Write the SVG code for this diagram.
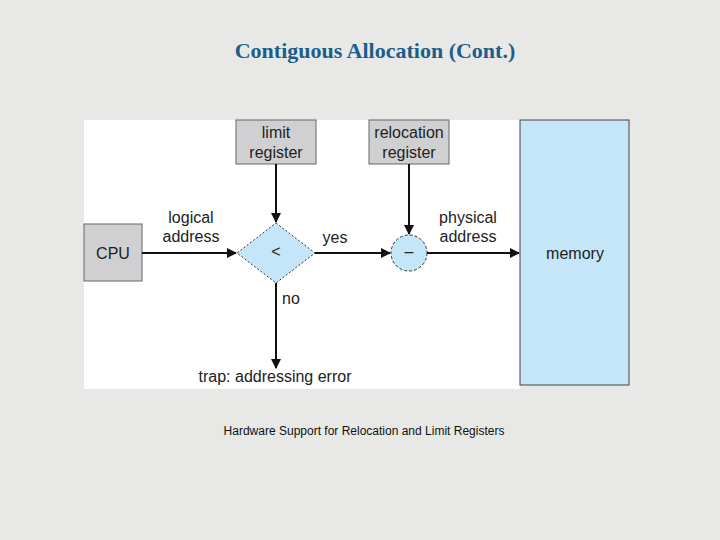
<svg xmlns="http://www.w3.org/2000/svg" width="720" height="540" viewBox="0 0 720 540">
<style>
.t{font-family:"Liberation Sans",Arial,sans-serif;font-size:16px;fill:#222;text-anchor:middle}
.reg{fill:#d0d0d2;stroke:#666;stroke-width:1}
.ln{stroke:#111;stroke-width:2;fill:none;marker-end:url(#a)}
</style>
<defs><marker id="a" viewBox="0 0 10 10" refX="9" refY="5" markerWidth="5" markerHeight="5" orient="auto"><path d="M0,0L10,5L0,10z" fill="#111"/></marker></defs>
<rect width="720" height="540" fill="#e8e8e6"/>
<text x="375" y="58" font-family="Liberation Serif,serif" font-size="22" font-weight="bold" fill="#1b5e8c" text-anchor="middle">Contiguous Allocation (Cont.)</text>
<rect x="84" y="120" width="436" height="269" fill="#fff"/>
<g id="memory"><rect x="520" y="120" width="109" height="265" fill="#c5e5f8" stroke="#444"/><text class="t" x="575" y="259">memory</text></g>
<g id="limit"><rect class="reg" x="236" y="120" width="80" height="44"/><text class="t" x="276" y="138">limit</text><text class="t" x="276" y="158">register</text></g>
<g id="relocation"><rect class="reg" x="369" y="120" width="80" height="44"/><text class="t" x="409" y="138">relocation</text><text class="t" x="409" y="158">register</text></g>
<g id="cpu"><rect class="reg" x="84" y="224" width="58" height="57"/><text class="t" x="113" y="259">CPU</text></g>
<g id="compare"><path d="M276,223L315,253L276,283L237,253z" fill="#c5e5f8" stroke="#333" stroke-dasharray="2,2"/><text class="t" x="276" y="257" font-size="11">&lt;</text></g>
<g id="adder"><circle cx="409" cy="253" r="18" fill="#c5e5f8" stroke="#333" stroke-dasharray="3,2"/><text class="t" x="409" y="257">–</text></g>
<g id="connectors">
<path class="ln" d="M142,253H236"/>
<path class="ln" d="M276,164V222"/>
<path class="ln" d="M315,253H390"/>
<path class="ln" d="M409,164V234"/>
<path class="ln" d="M427,253H519"/>
<path class="ln" d="M276,283V368"/>
</g>
<text class="t" x="191" y="223">logical</text><text class="t" x="191" y="242">address</text>
<text class="t" x="335" y="243">yes</text>
<text class="t" x="468" y="223">physical</text><text class="t" x="468" y="242">address</text>
<text class="t" x="291" y="304">no</text>
<text class="t" x="275" y="382">trap: addressing error</text>
<text x="364" y="435" font-family="Liberation Sans,Arial,sans-serif" font-size="12" fill="#111" text-anchor="middle">Hardware Support for Relocation and Limit Registers</text>
</svg>
